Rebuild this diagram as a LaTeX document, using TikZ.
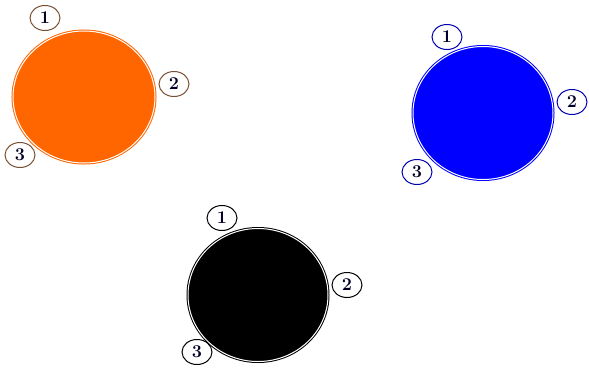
\documentclass[tikz,border=0pt]{standalone}
\usetikzlibrary{shapes.geometric}
\definecolor{myorange}{RGB}{255,102,0}
\definecolor{myblue}{RGB}{0,0,255}
\definecolor{myblack}{RGB}{0,0,0}
\tikzset{
  disc/.style={ellipse, fill=#1, draw=#1, double=white, line width=1pt, double distance=1pt, minimum width=140pt, minimum height=133pt, inner sep=0pt},
  tag/.style={ellipse, draw=#1, fill=white, line width=1pt, minimum width=30pt, minimum height=25pt, inner sep=0pt, font=\fontsize{18}{18}\selectfont\bfseries, text=black!85!blue}
}
\begin{document}
\begin{tikzpicture}[x=1pt,y=-1pt]
\useasboundingbox (0,0) rectangle (589,376);
% orange
\node[disc=myorange, minimum width=142pt, minimum height=132pt] (oc) at (84,97) {};
\node[tag=myorange!35!black!80] (o1) at (45,18) {1};
\node[tag=myorange!35!black!80] (o2) at (174,84) {2};
\node[tag=myorange!35!black!80] (o3) at (20,155) {3};
% blue
\node[disc=myblue] (bc) at (483,113) {};
\node[tag=myblue!70!black] (b1) at (447,37) {1};
\node[tag=myblue!70!black] (b2) at (572,102) {2};
\node[tag=myblue!70!black] (b3) at (417,172) {3};
% black
\node[disc=myblack] (kc) at (258,295) {};
\node[tag=myblack] (k1) at (222,218) {1};
\node[tag=myblack] (k2) at (347,285) {2};
\node[tag=myblack] (k3) at (197,352) {3};
\end{tikzpicture}
\end{document}
